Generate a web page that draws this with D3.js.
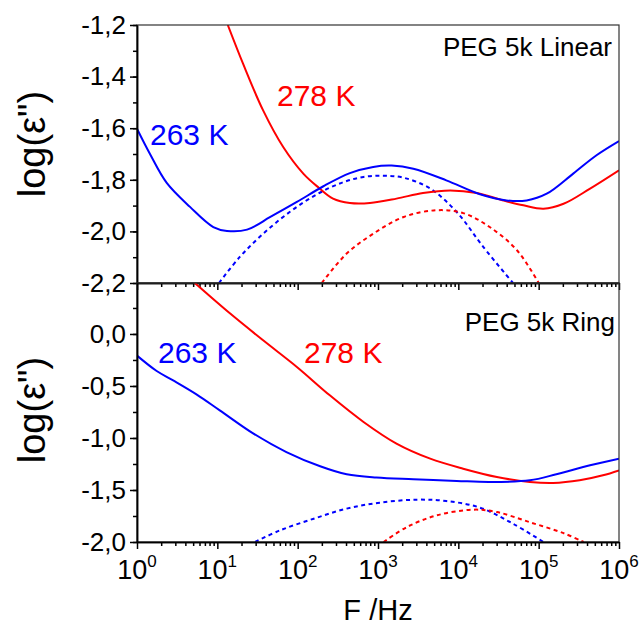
<!DOCTYPE html>
<html>
<head>
<meta charset="utf-8">
<script src="https://cdn.jsdelivr.net/npm/d3@7"></script>
<style>
  body { margin: 0; background: #fff; }
  text { font-family: "Liberation Sans", Arial, sans-serif; }
</style>
</head>
<body>
<script>
// data: [log10(F/Hz), log(eps'')]
var linear263 = [[0,-1.602],[0.16,-1.699],[0.37,-1.812],[0.66,-1.905],[0.95,-1.983],[1.12,-1.998],[1.37,-1.993],[1.66,-1.944],[1.99,-1.886],[2.32,-1.825],[2.65,-1.774],[2.94,-1.750],[3.17,-1.745],[3.44,-1.757],[3.85,-1.802],[4.27,-1.856],[4.6,-1.880],[4.85,-1.880],[5.1,-1.854],[5.43,-1.776],[5.72,-1.705],[6,-1.650]];
var linear278 = [[1.13,-1.2],[1.32,-1.350],[1.57,-1.531],[1.82,-1.673],[2.07,-1.776],[2.26,-1.830],[2.44,-1.873],[2.65,-1.890],[2.9,-1.890],[3.23,-1.873],[3.56,-1.851],[3.9,-1.841],[4.23,-1.851],[4.56,-1.880],[4.81,-1.899],[5.06,-1.912],[5.31,-1.893],[5.64,-1.834],[6,-1.763]];
var linearFit263 = [[1.02,-2.2],[1.28,-2.099],[1.57,-2.009],[1.9,-1.925],[2.24,-1.856],[2.57,-1.809],[2.82,-1.789],[3.07,-1.784],[3.32,-1.792],[3.65,-1.834],[3.98,-1.925],[4.31,-2.060],[4.68,-2.2]];
var linearFit278 = [[2.3,-2.2],[2.61,-2.086],[2.94,-2.009],[3.32,-1.944],[3.73,-1.918],[4.06,-1.929],[4.39,-1.983],[4.73,-2.073],[5.0,-2.2]];

var ring263 = [[0,-0.208],[0.245,-0.356],[0.45,-0.446],[0.74,-0.580],[1.03,-0.734],[1.45,-0.958],[1.86,-1.135],[2.28,-1.272],[2.61,-1.349],[2.98,-1.381],[3.44,-1.397],[3.98,-1.413],[4.39,-1.423],[4.89,-1.407],[5.22,-1.349],[5.64,-1.263],[6,-1.199]];
var ring278 = [[0.72,0.49],[1.16,0.196],[1.57,-0.061],[1.99,-0.317],[2.4,-0.590],[2.82,-0.846],[3.23,-1.054],[3.65,-1.199],[4.06,-1.295],[4.48,-1.375],[4.89,-1.423],[5.18,-1.433],[5.51,-1.407],[5.8,-1.359],[6,-1.311]];
var ringFit263 = [[1.47,-2.0],[1.78,-1.888],[2.2,-1.776],[2.61,-1.679],[3.02,-1.622],[3.48,-1.593],[3.85,-1.606],[4.27,-1.670],[4.68,-1.824],[5.06,-2.0]];
var ringFit278 = [[3.07,-2.0],[3.36,-1.856],[3.73,-1.744],[4.19,-1.689],[4.48,-1.712],[4.89,-1.810],[5.31,-1.915],[5.56,-2.0]];

var xTicks = [1, 10, 100, 1000, 10000, 100000, 1000000];
var yTicksTop = [-2.2, -2.0, -1.8, -1.6, -1.4, -1.2];
var yTicksBottom = [-2.0, -1.5, -1.0, -0.5, 0.0];

var width = 641, height = 626;
var left = 137, right = 619;
var topY = 25, midY = 283, botY = 542;

var svg = d3.select("body").append("svg").attr("width", width).attr("height", height);

var x = d3.scaleLog().domain([1, 1e6]).range([left, right]);
var yTop = d3.scaleLinear().domain([-2.2, -1.2]).range([midY, topY]);
var yBot = d3.scaleLinear().domain([-2.0, 0.49]).range([botY, midY]);

var comma = function(d) { return d3.format(".1f")(d).replace("\u2212", "-").replace(".", ","); };

// minor ticks
var xMinor = [];
for (var e = 0; e < 6; e++) for (var m = 2; m < 10; m++) xMinor.push(m * Math.pow(10, e));
var yMinorTop = d3.range(-2.2, -1.15, 0.1);
var yMinorBot = d3.range(-2.0, 0.5, 0.25);

function panel(name, y, yTicks, yMinor, series, labelY, showX) {
  var g = svg.append("g");
  g.append("clipPath").attr("id", "clip" + name)
    .append("rect").attr("x", left).attr("y", y.range()[1]).attr("width", right - left).attr("height", y.range()[0] - y.range()[1]);

  var line = d3.line()
    .x(function(d) { return x(Math.pow(10, d[0])); })
    .y(function(d) { return y(d[1]); })
    .curve(d3.curveCatmullRom.alpha(0.5));

  var lines = g.append("g").attr("clip-path", "url(#clip" + name + ")");
  series.forEach(function(s) {
    lines.append("path").attr("d", line(s.data)).attr("fill", "none")
      .attr("stroke", s.color).attr("stroke-width", 2)
      .attr("stroke-dasharray", s.dash ? "4,3.5" : null);
  });

  // frame
  g.append("rect").attr("x", left).attr("y", y.range()[1]).attr("width", right - left).attr("height", y.range()[0] - y.range()[1])
    .attr("fill", "none").attr("stroke", "#333").attr("stroke-width", 1.2);

  // y axis
  var ya = g.append("g").attr("transform", "translate(" + left + ",0)")
    .call(d3.axisLeft(y).tickValues(yTicks).tickSize(7).tickSizeOuter(0).tickPadding(4).tickFormat(comma));
  ya.selectAll("text").attr("font-size", 26).attr("fill", "#000").attr("font-family", "Liberation Sans, Arial, sans-serif");
  g.append("g").attr("transform", "translate(" + left + ",0)")
    .call(d3.axisLeft(y).tickValues(yMinor).tickSize(4).tickSizeOuter(0).tickFormat(""));

  // x axis
  g.append("g").attr("transform", "translate(0," + y.range()[0] + ")")
    .call(d3.axisBottom(x).tickValues(xTicks).tickSize(7).tickSizeOuter(0).tickFormat(""));
  g.append("g").attr("transform", "translate(0," + y.range()[0] + ")")
    .call(d3.axisBottom(x).tickValues(xMinor).tickSize(4).tickSizeOuter(0).tickFormat(""));

  if (showX) {
    xTicks.forEach(function(t) {
      var tx = g.append("text").attr("x", x(t)).attr("y", y.range()[0] + 37)
        .attr("text-anchor", "middle").attr("font-size", 27);
      tx.append("tspan").text("10");
      tx.append("tspan").attr("font-size", 17).attr("dy", -12).text(Math.round(Math.log10(t)));
    });
  }

  g.selectAll(".domain, .tick line").attr("stroke", "#000").attr("stroke-width", 1.5);

  // y label
  g.append("text").attr("transform", "translate(45," + labelY + ") rotate(-90)")
    .attr("text-anchor", "middle").attr("font-size", 38).text("log(\u03b5\")");
  return g;
}

panel("top", yTop, yTicksTop, yMinorTop, [
  { data: linearFit263, color: "#0000ff", dash: true },
  { data: linearFit278, color: "#ff0000", dash: true },
  { data: linear278, color: "#ff0000" },
  { data: linear263, color: "#0000ff" }
], 144, false);

panel("bot", yBot, yTicksBottom, yMinorBot, [
  { data: ringFit263, color: "#0000ff", dash: true },
  { data: ringFit278, color: "#ff0000", dash: true },
  { data: ring278, color: "#ff0000" },
  { data: ring263, color: "#0000ff" }
], 410, true);

// annotations
svg.append("text").attr("x", 612).attr("y", 56).attr("text-anchor", "end").attr("font-size", 26).text("PEG 5k Linear");
svg.append("text").attr("x", 615).attr("y", 331).attr("text-anchor", "end").attr("font-size", 26).text("PEG 5k Ring");
svg.append("text").attr("x", 150).attr("y", 145).attr("font-size", 30).attr("fill", "#0000ff").text("263 K");
svg.append("text").attr("x", 277).attr("y", 106).attr("font-size", 30).attr("fill", "#ff0000").text("278 K");
svg.append("text").attr("x", 158).attr("y", 363).attr("font-size", 30).attr("fill", "#0000ff").text("263 K");
svg.append("text").attr("x", 304).attr("y", 363).attr("font-size", 30).attr("fill", "#ff0000").text("278 K");

// x title
svg.append("text").attr("x", (left + right) / 2).attr("y", 620).attr("text-anchor", "middle").attr("font-size", 29).text("F /Hz");
</script>
</body>
</html>
